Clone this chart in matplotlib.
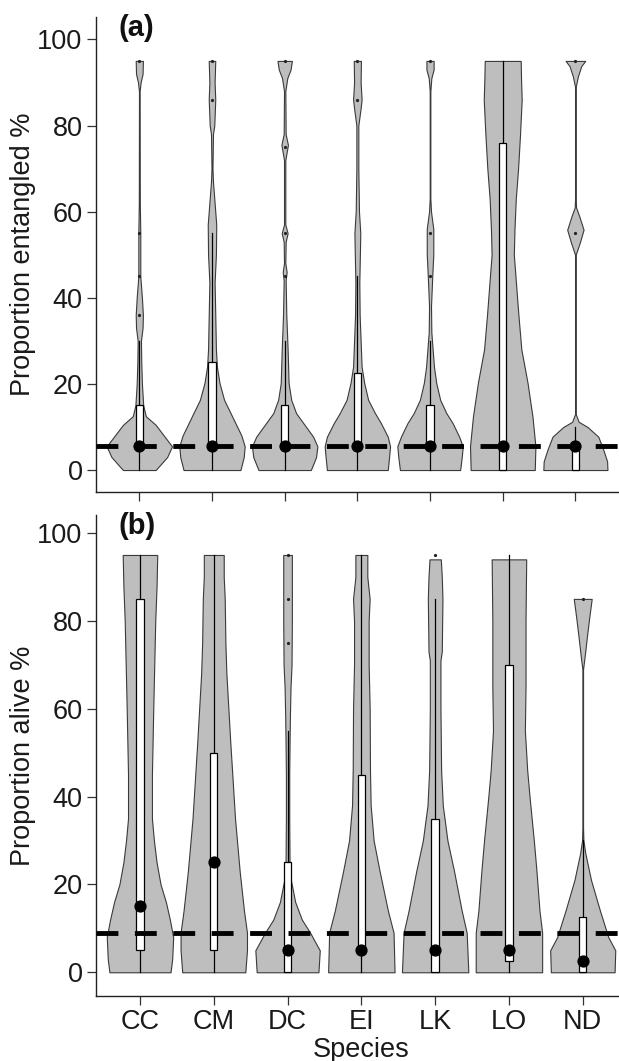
import matplotlib
matplotlib.use('Agg')
import matplotlib.pyplot as plt

plt.rcParams['font.family'] = ['Liberation Sans', 'DejaVu Sans']

species = ['CC', 'CM', 'DC', 'EI', 'LK', 'LO', 'ND']

# violin outlines: (value %, half width as share of the widest violin)
ent_cc = [(0, .5), (3, .85), (5.5, 1), (8, .75), (10.5, .5), (12.5, .2), (15, .12), (20, .08), (25, .06),
          (30, .05), (33, .1), (36, .11), (40, .08), (45, .03), (55, .03), (62, .015), (88, .01),
          (90, .04), (92, .1), (95, .11)]
ent_cm = [(0, .87), (3, .97), (5.5, 1), (8, .9), (12.4, .62), (16.3, .37), (20.2, .23), (24, .15), (28, .12),
          (36, .1), (43.5, .08), (50, .12), (57, .13), (62, .08), (67, .03), (70, .015), (78, .03),
          (80, .07), (86, .1), (90, .08), (95, .1)]
ent_dc = [(0, .8), (3, .96), (5.5, 1), (7.75, .87), (10.9, .57), (13.2, .35), (16.3, .2), (20.2, .12), (28, .09),
          (36, .05), (44, .03), (46, .06), (48, .02), (53, .03), (55, .09), (57, .02), (72, .02), (75.5, .1),
          (78, .03), (88, .02), (91, .08), (93, .18), (95, .22)]
ent_ei = [(0, .93), (3, .97), (5.5, 1), (7.75, .93), (10.9, .72), (13.2, .54), (16.3, .33), (20.2, .21), (24, .13),
          (28, .11), (36, .07), (43.5, .06), (51, .08), (55, .09), (60, .05), (70, .03), (80, .03), (84, .1),
          (86, .13), (90, .1), (95, .11)]
ent_lk = [(0, .92), (3, .97), (5.5, 1), (7.75, .89), (10.9, .69), (13.2, .5), (16.3, .31), (20.2, .19), (24, .12),
          (28, .08), (32, .04), (38, .03), (43.5, .06), (47, .08), (50, .1), (56, .1), (60, .03), (63, .01),
          (88, .01), (91, .04), (93, .11), (95, .11)]
ent_lo = [(0, .98), (5.5, 1), (12.4, .91), (20.2, .76), (28, .57), (36, .48), (44, .4), (50, .34), (56, .36),
          (63, .4), (70, .47), (78, .53), (86, .58), (91, .56), (95, .55)]
ent_nd = [(0, .98), (2, .97), (4.8, .85), (7.75, .7), (10, .37), (11.2, .1), (13, .01), (50, .01), (52.7, .13),
          (55.8, .25), (58.9, .12), (61, .02), (63, .01), (89, .01), (91.5, .08), (93.8, .18), (95, .3)]

alv_cc = [(0, .92), (3, .97), (8, 1), (12, .9), (16, .78), (20, .62), (25, .5), (30, .42), (35, .36), (45, .36),
          (60, .4), (70, .43), (80, .46), (88, .5), (95, .52)]
alv_cm = [(0, .95), (5, 1), (9, 1), (14, .91), (23, .78), (35, .64), (46, .55), (52, .5), (60, .44), (68, .38),
          (75, .35), (85, .33), (90, .3), (95, .3)]
alv_dc = [(0, .93), (5, .97), (9, .68), (12, .43), (16, .23), (21, .1), (25, .06), (35, .05), (45, .05), (52, .06),
          (58, .07), (65, .09), (70, .12), (80, .13), (90, .13), (95, .13)]
alv_ei = [(0, 1), (9, .97), (14, .8), (23, .55), (30, .37), (38, .28), (46, .26), (60, .25), (70, .22), (80, .22),
          (85, .25), (90, .18), (95, .18)]
alv_lk = [(0, 1), (9, .95), (14, .8), (23, .57), (30, .37), (38, .23), (46, .18), (60, .16), (71, .16), (73, .2),
          (85, .22), (90, .2), (94, .17)]
alv_lo = [(0, 1), (9, 1), (14, .92), (23, .83), (30, .75), (40, .62), (46, .55), (55, .48), (65, .5), (80, .5),
          (94, .52)]
alv_nd = [(0, .96), (5, .98), (8, .77), (14, .52), (21, .25), (27, .08), (30, .02), (33, .01), (69, .01), (72, .06),
          (76, .12), (81, .2), (85, .27)]

# box plot numbers
ent_q1 = [5, 5, 5, 5, 5, 0, 0]
ent_q3 = [15, 25, 15, 22.5, 15, 76, 5]
ent_med = [5.5, 5.5, 5.5, 5.5, 5.5, 5.5, 5.5]
ent_wlo = [0, 0, 0, 0, 0, 0, 0]
ent_whi = [30, 55, 30, 45, 30, 95, 10]
ent_out = [[36, 45, 55, 95], [86, 95], [45, 55, 75, 95], [86, 95], [45, 55, 95], [], [55, 95]]
ent_mean = 5.5

alv_q1 = [5, 5, 0, 5, 0, 2.5, 0]
alv_q3 = [85, 50, 25, 45, 35, 70, 12.5]
alv_med = [15, 25, 5, 5, 5, 5, 2.5]
alv_wlo = [0, 0, 0, 0, 0, 0, 0]
alv_whi = [95, 95, 55, 95, 85, 95, 30]
alv_out = [[], [], [75, 85, 95], [], [95], [], [85]]
alv_mean = 9

FS = 19.5
VW = 0.45  # half width of the widest violin
BW = 0.05  # half width of the box


def draw_panel(ax, profiles, q1, q3, med, wlo, whi, outl, mean_val, tag, ylabel):
    for i, prof in enumerate(profiles):
        x = i + 1
        ys = [p[0] for p in prof]
        ws = [p[1] * VW for p in prof]
        ax.fill_betweenx(ys, [x - w for w in ws], [x + w for w in ws],
                         facecolor='#bebebe', edgecolor='#3a3a3a', linewidth=0.8, zorder=1)
        ax.plot([x, x], [wlo[i], q1[i]], color='black', lw=0.9, zorder=2)
        ax.plot([x, x], [q3[i], whi[i]], color='black', lw=0.9, zorder=2)
        ax.add_patch(plt.Rectangle((x - BW, q1[i]), 2 * BW, q3[i] - q1[i],
                                   facecolor='white', edgecolor='black', lw=0.9, zorder=3))
        if outl[i]:
            ax.plot([x] * len(outl[i]), outl[i], 'o', color='#222222', ms=1.3, zorder=3)
        ax.plot(x, med[i], 'o', color='black', ms=7.8, zorder=5)
    ax.axhline(mean_val, color='black', lw=3.5, dashes=(4.5, 3.4), zorder=4)

    ax.set_xlim(0.4, 7.6)
    ax.set_xticks(range(1, 8))
    ax.set_xticklabels(species)
    ax.set_yticks([0, 20, 40, 60, 80, 100])
    for s in ['top', 'right']:
        ax.spines[s].set_visible(False)
    for s in ['left', 'bottom']:
        ax.spines[s].set_linewidth(1.0)
        ax.spines[s].set_color('#222222')
    ax.tick_params(length=6.5, width=0.9, color='#333333', labelsize=FS, labelcolor='#1a1a1a', pad=3)
    ax.set_ylabel(ylabel, fontsize=FS, color='#1a1a1a', labelpad=1)
    ax.text(0.043, 1.006, tag, transform=ax.transAxes, fontsize=21, fontweight='bold',
            color='#111111', ha='left', va='top', clip_on=False)


fig = plt.figure(figsize=(6.19, 10.61), dpi=100)
ax_a = fig.add_axes([95.7 / 619, 1 - 492 / 1061, (619 - 95.7) / 619, 475 / 1061])
ax_b = fig.add_axes([95.7 / 619, 1 - 996 / 1061, (627 - 95.7) / 619, 481 / 1061])

draw_panel(ax_a, [ent_cc, ent_cm, ent_dc, ent_ei, ent_lk, ent_lo, ent_nd],
           ent_q1, ent_q3, ent_med, ent_wlo, ent_whi, ent_out, ent_mean, '(a)', 'Proportion entangled %')
ax_a.set_ylim(-5.1, 105.2)
ax_a.tick_params(axis='x', labelbottom=False)

draw_panel(ax_b, [alv_cc, alv_cm, alv_dc, alv_ei, alv_lk, alv_lo, alv_nd],
           alv_q1, alv_q3, alv_med, alv_wlo, alv_whi, alv_out, alv_mean, '(b)', 'Proportion alive %')
ax_b.set_ylim(-5.4, 104.1)
ax_b.set_xlabel('Species', fontsize=FS, color='#1a1a1a', labelpad=1)

fig.savefig('out.png', dpi=100)
